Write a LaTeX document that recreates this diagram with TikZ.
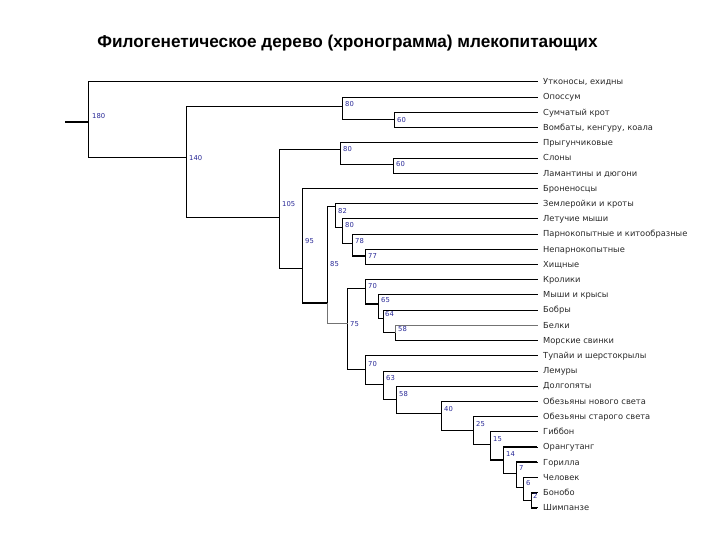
\documentclass[tikz,border=0pt]{standalone}
\usepackage{fontspec}
\setmainfont{DejaVu Sans}
\newfontfamily\titlefont{Liberation Sans}
\definecolor{nodeblue}{RGB}{40,40,150}
\definecolor{leafgray}{RGB}{40,40,40}
\begin{document}
\begin{tikzpicture}[x=1pt,y=-1pt,
  br/.style={line width=1pt, black, line cap=rect},
  thk/.style={line width=1.8pt, line cap=butt},
  gry/.style={draw=black!55},
  lf/.style={anchor=west, inner xsep=6pt, inner ysep=0pt, font=\fontsize{8.3}{9}\selectfont, text=leafgray, text height=1ex, text depth=0pt},
  nl/.style={anchor=west, inner sep=0pt, font=\fontsize{6.8}{8}\selectfont, text=nodeblue}]
\useasboundingbox (0,0) rectangle (720,540);

\node[font=\titlefont\bfseries\fontsize{17.2}{20}\selectfont] (title) at (347.5,43) {Филогенетическое дерево (хронограмма) млекопитающих};

% leaves
\node[lf] (L1) at (537,82.0) {Утконосы, ехидны};
\node[lf] (L2) at (537,97.2) {Опоссум};
\node[lf] (L3) at (537,112.4) {Сумчатый крот};
\node[lf] (L4) at (537,127.6) {Вомбаты, кенгуру, коала};
\node[lf] (L5) at (537,142.8) {Прыгунчиковые};
\node[lf] (L6) at (537,158.1) {Слоны};
\node[lf] (L7) at (537,173.3) {Ламантины и дюгони};
\node[lf] (L8) at (537,188.5) {Броненосцы};
\node[lf] (L9) at (537,203.7) {Землеройки и кроты};
\node[lf] (L10) at (537,218.9) {Летучие мыши};
\node[lf] (L11) at (537,234.1) {Парнокопытные и китообразные};
\node[lf] (L12) at (537,249.3) {Непарнокопытные};
\node[lf] (L13) at (537,264.5) {Хищные};
\node[lf] (L14) at (537,279.7) {Кролики};
\node[lf] (L15) at (537,294.9) {Мыши и крысы};
\node[lf] (L16) at (537,310.2) {Бобры};
\node[lf] (L17) at (537,325.4) {Белки};
\node[lf] (L18) at (537,340.6) {Морские свинки};
\node[lf] (L19) at (537,355.8) {Тупайи и шерстокрылы};
\node[lf] (L20) at (537,371.0) {Лемуры};
\node[lf] (L21) at (537,386.2) {Долгопяты};
\node[lf] (L22) at (537,401.4) {Обезьяны нового света};
\node[lf] (L23) at (537,416.6) {Обезьяны старого света};
\node[lf] (L24) at (537,431.8) {Гиббон};
\node[lf] (L25) at (537,447.0) {Орангутанг};
\node[lf] (L26) at (537,462.3) {Горилла};
\node[lf] (L27) at (537,477.5) {Человек};
\node[lf] (L28) at (537,492.7) {Бонобо};
\node[lf] (L29) at (537,507.9) {Шимпанзе};

% internal nodes
\coordinate (root) at (65,122);
\coordinate (n180) at (88,122);
\coordinate (n140) at (186,158);
\coordinate (n80a) at (342,107);
\coordinate (n60a) at (394,120);
\coordinate (n105) at (279,218);
\coordinate (n80b) at (340,150);
\coordinate (n60b) at (393,165);
\coordinate (n95) at (302,268);
\coordinate (n85) at (327,303);
\coordinate (n82) at (335,207);
\coordinate (n80c) at (342,228);
\coordinate (n78) at (352,243);
\coordinate (n77) at (365,256);
\coordinate (n75) at (347,323);
\coordinate (n70a) at (365,288);
\coordinate (n65) at (378,304);
\coordinate (n64) at (383,318);
\coordinate (n58a) at (395,332);
\coordinate (n70b) at (365,369);
\coordinate (n63) at (383,384);
\coordinate (n58b) at (396,399);
\coordinate (n40) at (441,413);
\coordinate (n25) at (473,430);
\coordinate (n15) at (490,444);
\coordinate (n14) at (503,460);
\coordinate (n7) at (516,473);
\coordinate (n6) at (523,487);
\coordinate (n2) at (531,500);

% branches
\draw[br,thk] (root) -- (n180);
\foreach \p/\c in {n180/L1.west, n180/n140, n140/n80a, n140/n105,
  n80a/L2.west, n80a/n60a, n60a/L3.west, n60a/L4.west,
  n105/n80b, n105/n95, n80b/L5.west, n80b/n60b, n60b/L6.west, n60b/L7.west,
  n95/L8.west, n95/n85, n85/n82, n82/L9.west, n82/n80c,
  n80c/L10.west, n80c/n78, n78/L11.west, n78/n77, n77/L12.west, n77/L13.west,
  n75/n70a, n75/n70b, n70a/L14.west, n70a/n65, n65/L15.west, n65/n64,
  n64/L16.west, n64/n58a, n58a/L18.west,
  n70b/L19.west, n70b/n63, n63/L20.west, n63/n58b, n58b/L21.west, n58b/n40,
  n40/L22.west, n40/n25, n25/L23.west, n25/n15, n15/L24.west, n15/n14,
  n14/L25.west, n14/n7, n7/L26.west, n7/n6, n6/L27.west, n6/n2,
  n2/L28.west, n2/L29.west}
  \draw[br] (\p) |- (\c);
\draw[br,gry] (n85) |- (n75);
\draw[br,gry] (n58a) |- (L17.west);
% heavier horizontal segments
\foreach \p/\c in {n95/n85, n78/n77, n70a/n65, n15/n14, n14/L25.west,
  n7/L26.west, n2/L28.west, n2/L29.west}
  \draw[br,thk] (\p |- \c) -- (\c);

% node ages
\node[nl] (t180) at (92,116) {180};
\node[nl] (t140) at (189,158) {140};
\node[nl] (t80a) at (345,104) {80};
\node[nl] (t60a) at (397,120) {60};
\node[nl] (t80b) at (343,149) {80};
\node[nl] (t60b) at (396,164) {60};
\node[nl] (t105) at (282,204) {105};
\node[nl] (t95) at (305,241) {95};
\node[nl] (t82) at (338,211) {82};
\node[nl] (t80c) at (345,225) {80};
\node[nl] (t78) at (355,241) {78};
\node[nl] (t77) at (368,256) {77};
\node[nl] (t85) at (330,264) {85};
\node[nl] (t70a) at (368,286) {70};
\node[nl] (t65) at (381,300) {65};
\node[nl] (t64) at (385,314) {64};
\node[nl] (t58a) at (398,329) {58};
\node[nl] (t75) at (350,324) {75};
\node[nl] (t70b) at (368,364) {70};
\node[nl] (t63) at (386,378) {63};
\node[nl] (t58b) at (399,394) {58};
\node[nl] (t40) at (444,409) {40};
\node[nl] (t25) at (476,424) {25};
\node[nl] (t15) at (493,439) {15};
\node[nl] (t14) at (506,454) {14};
\node[nl] (t7) at (519,468) {7};
\node[nl] (t6) at (526,483) {6};
\node[nl] (t2) at (533,496) {2};
\end{tikzpicture}
\end{document}
